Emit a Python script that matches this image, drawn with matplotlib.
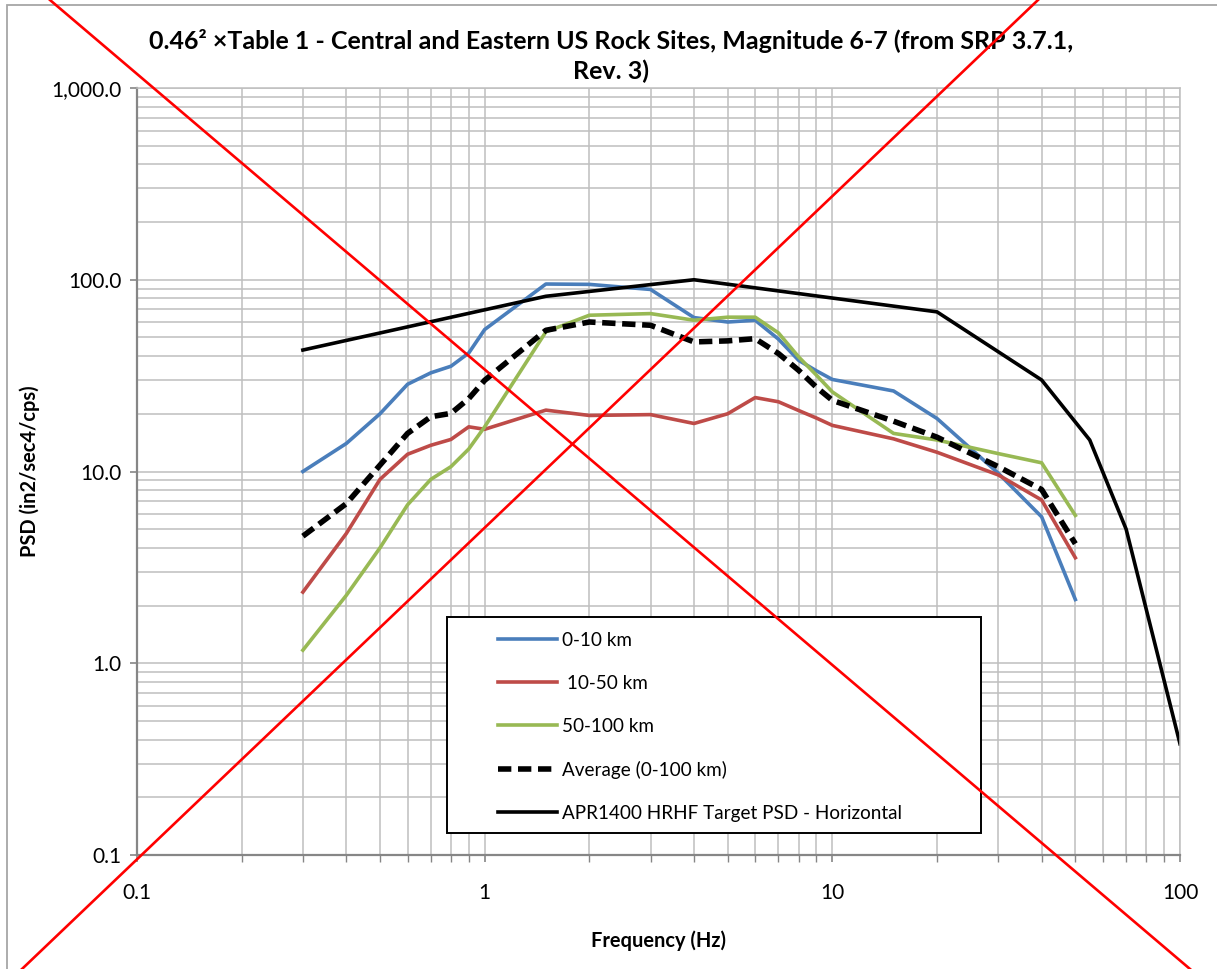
import numpy as np
import matplotlib
matplotlib.use("Agg")
import matplotlib.pyplot as plt
from matplotlib.ticker import LogLocator, FuncFormatter, NullFormatter
from matplotlib.lines import Line2D
from matplotlib.patches import Rectangle

plt.rcParams['font.family'] = ['Lato', 'DejaVu Sans']

# frequencies (Hz) shared by the three distance bins and the average
freq = [0.3, 0.4, 0.5, 0.6, 0.7, 0.8, 0.9, 1, 1.5, 2, 3, 4, 5, 6, 7, 8, 9, 10,
        15, 20, 30, 40, 50]
psd_0_10 = [10.0, 14.0, 20.0, 28.5, 32.7, 35.4, 41.5, 55.0, 95.0, 94.6, 89.0,
            63.5, 60.2, 61.5, 49.0, 38.0, 33.5, 30.2, 26.3, 18.9, 9.8, 5.8, 2.15]
psd_10_50 = [2.35, 4.75, 9.1, 12.3, 13.7, 14.7, 17.1, 16.6, 20.9, 19.6, 19.8,
             17.8, 20.0, 24.3, 23.1, 20.8, 19.0, 17.4, 14.8, 12.6, 9.6, 7.1, 3.55]
psd_50_100 = [1.17, 2.26, 4.0, 6.7, 9.1, 10.6, 13.1, 17.1, 53.5, 65.3, 66.6,
              61.5, 63.8, 63.8, 52.8, 39.6, 31.8, 26.0, 15.8, 14.6, 12.4, 11.1, 5.9]
psd_avg = [4.6, 6.8, 10.8, 15.8, 19.3, 20.1, 24.0, 29.9, 54.5, 60.2, 57.9,
           47.4, 48.0, 49.3, 41.2, 33.7, 27.5, 23.5, 18.3, 15.1, 10.6, 8.05, 4.2]

# APR1400 target
freq_target = [0.3, 1.5, 4, 20, 40, 55, 70, 100]
psd_target = [43.0, 82.0, 100.0, 68.0, 30.0, 14.6, 5.0, 0.38]

labels = ['0-10 km', ' 10-50 km', '50-100 km', 'Average (0-100 km)',
          'APR1400 HRHF Target PSD - Horizontal']

W, H = 1217, 969
fig = plt.figure(figsize=(W / 100, H / 100), dpi=100)
ax = fig.add_axes([137 / W, 1 - 855 / H, (1180 - 137) / W, (855 - 88) / H])

ax.plot(freq, psd_0_10, color='#4a7ebb', lw=2.6, label=labels[0])
ax.plot(freq, psd_10_50, color='#be4b48', lw=2.6, label=labels[1])
ax.plot(freq, psd_50_100, color='#98b954', lw=2.6, label=labels[2])
ax.plot(freq, psd_avg, color='black', lw=4.0, dashes=(2.4, 1.2), label=labels[3])
ax.plot(freq_target, psd_target, color='black', lw=2.6, label=labels[4])

ax.set_xscale('log')
ax.set_yscale('log')
ax.set_xlim(0.1, 100)
ax.set_ylim(0.1, 1000)

ax.xaxis.set_major_locator(LogLocator(base=10))
ax.xaxis.set_minor_locator(LogLocator(base=10, subs=np.arange(2, 10)))
ax.yaxis.set_major_locator(LogLocator(base=10))
ax.yaxis.set_minor_locator(LogLocator(base=10, subs=np.arange(2, 10)))
ax.xaxis.set_major_formatter(FuncFormatter(lambda v, p: f'{v:g}'))
ax.yaxis.set_major_formatter(FuncFormatter(lambda v, p: f'{v:,.1f}'))
ax.xaxis.set_minor_formatter(NullFormatter())
ax.yaxis.set_minor_formatter(NullFormatter())

ax.grid(which='both', color='#bfbfbf', lw=1.1)
ax.set_axisbelow(True)
for s in ['top', 'right']:
    ax.spines[s].set_color('#bfbfbf')
    ax.spines[s].set_linewidth(1.1)
for s in ['left', 'bottom']:
    ax.spines[s].set_color('#868686')
    ax.spines[s].set_linewidth(1.6)

ax.tick_params(axis='x', which='major', direction='out', length=5, width=1.2,
               color='#868686', pad=15, labelsize=15)
ax.tick_params(axis='x', which='minor', direction='out', length=5, width=1.0,
               color='#868686')
ax.tick_params(axis='y', which='major', direction='out', length=5, width=1.2,
               color='#868686', pad=6, labelsize=15)
ax.tick_params(axis='y', which='minor', length=0)

ax.set_xlabel('Frequency (Hz)', fontsize=14.4, fontweight='bold', labelpad=20)
ax.set_ylabel('PSD (in2/sec4/cps)', fontsize=14.4, fontweight='bold', labelpad=8)

fig.text(611 / W, 1 - 56 / H,
         '0.46² ×Table 1 - Central and Eastern US Rock Sites, Magnitude 6-7 (from SRP 3.7.1,\nRev. 3)',
         ha='center', va='center', fontsize=18, fontweight='bold', linespacing=1.3)

# legend box drawn by hand, entries by the legend
ax.add_patch(Rectangle((447 / W, 1 - 833 / H), (981 - 447) / W, (833 - 617) / H,
                       transform=fig.transFigure, facecolor='white',
                       edgecolor='black', lw=1.4, zorder=4))
leg = ax.legend(loc='upper left', bbox_to_anchor=(498 / W, 1 - 632 / H),
                bbox_transform=fig.transFigure, frameon=False, fontsize=13.6,
                handlelength=3.1, handletextpad=0.28, labelspacing=1.37,
                borderpad=0, borderaxespad=0)
leg.set_zorder(5)

# chart area border
fig.add_artist(Rectangle((7 / W, -0.05), 1.1, 1 - 5 / H + 0.05,
                         transform=fig.transFigure, fill=False,
                         edgecolor='#a6a6a6', lw=1.3))

# red cross over the whole picture
fig.add_artist(Line2D([50 / W, 1190 / W], [1, 0], color='red', lw=1.9,
                      transform=fig.transFigure, zorder=10))
fig.add_artist(Line2D([22 / W, 1038 / W], [0, 1], color='red', lw=1.9,
                      transform=fig.transFigure, zorder=10))

fig.savefig('out.png', dpi=100)
